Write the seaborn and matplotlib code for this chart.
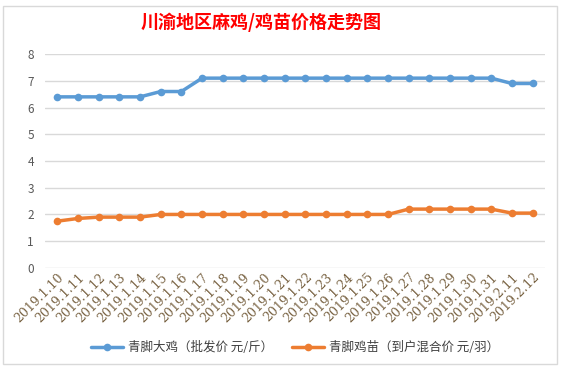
import numpy as np
import pandas as pd
import matplotlib.pyplot as plt
import seaborn as sns

# dates on the x axis
dates = ['2019.1.10', '2019.1.11', '2019.1.12', '2019.1.13', '2019.1.14', '2019.1.15',
         '2019.1.16', '2019.1.17', '2019.1.18', '2019.1.19', '2019.1.20', '2019.1.21',
         '2019.1.22', '2019.1.23', '2019.1.24', '2019.1.25', '2019.1.26', '2019.1.27',
         '2019.1.28', '2019.1.29', '2019.1.30', '2019.1.31', '2019.2.11', '2019.2.12']

# 青脚大鸡 (批发价 元/斤)
big_chicken = [6.4, 6.4, 6.4, 6.4, 6.4, 6.6, 6.6, 7.1, 7.1, 7.1, 7.1, 7.1,
               7.1, 7.1, 7.1, 7.1, 7.1, 7.1, 7.1, 7.1, 7.1, 7.1, 6.9, 6.9]
# 青脚鸡苗 (到户混合价 元/羽)
chick = [1.75, 1.85, 1.9, 1.9, 1.9, 2.0, 2.0, 2.0, 2.0, 2.0, 2.0, 2.0,
         2.0, 2.0, 2.0, 2.0, 2.0, 2.2, 2.2, 2.2, 2.2, 2.2, 2.05, 2.05]

labels = ['青脚大鸡（批发价 元/斤）', '青脚鸡苗（到户混合价 元/羽）']

df = pd.DataFrame({'date': dates * 2,
                   'price': big_chicken + chick,
                   'series': [labels[0]] * len(dates) + [labels[1]] * len(dates)})
df['pos'] = list(range(len(dates))) * 2

sns.set_style('white')
plt.rcParams['font.family'] = ['Noto Sans CJK SC', 'DejaVu Sans']

fig = plt.figure(figsize=(5.63, 3.68), dpi=100)
ax = fig.add_axes([0.08, 0.272, 0.888, 0.581])

palette = {labels[0]: '#5B9BD5', labels[1]: '#ED7D31'}
sns.lineplot(data=df, x='pos', y='price', hue='series', palette=palette,
             marker='o', markersize=5.5, markeredgewidth=0, linewidth=2.5, ax=ax)

ax.set_ylim(0, 8)
ax.set_yticks(range(0, 9))
ax.set_xlim(-0.6, len(dates) - 0.4)
ax.set_xticks(range(len(dates)))
ax.set_xticklabels(dates, rotation=45, ha='right', rotation_mode='anchor',
                   fontsize=9, color='#7a6444', family='DejaVu Serif')
ax.tick_params(axis='y', labelsize=8.5, labelcolor='#595959', length=0, pad=8)
ax.tick_params(axis='x', length=0, pad=2)
ax.yaxis.grid(True, color='#d9d9d9', linewidth=1)
for s in ax.spines.values():
    s.set_visible(False)
ax.set_xlabel('')
ax.set_ylabel('')

ax.legend(loc='upper center', bbox_to_anchor=(0.5, -0.29), ncol=2, frameon=False,
          fontsize=9, labelcolor='#404040', handlelength=2.6, columnspacing=1.5,
          handletextpad=0.4)

fig.text(0.463, 0.94, '川渝地区麻鸡/鸡苗价格走势图', ha='center', va='center',
         color='#ff0000', fontsize=13, fontweight='bold')

# chart border
fig.patches.append(plt.Rectangle((0.005, 0.01), 0.985, 0.975, transform=fig.transFigure,
                                 fill=False, edgecolor='#d9d9d9', linewidth=1))

fig.savefig('out.png', dpi=100)
